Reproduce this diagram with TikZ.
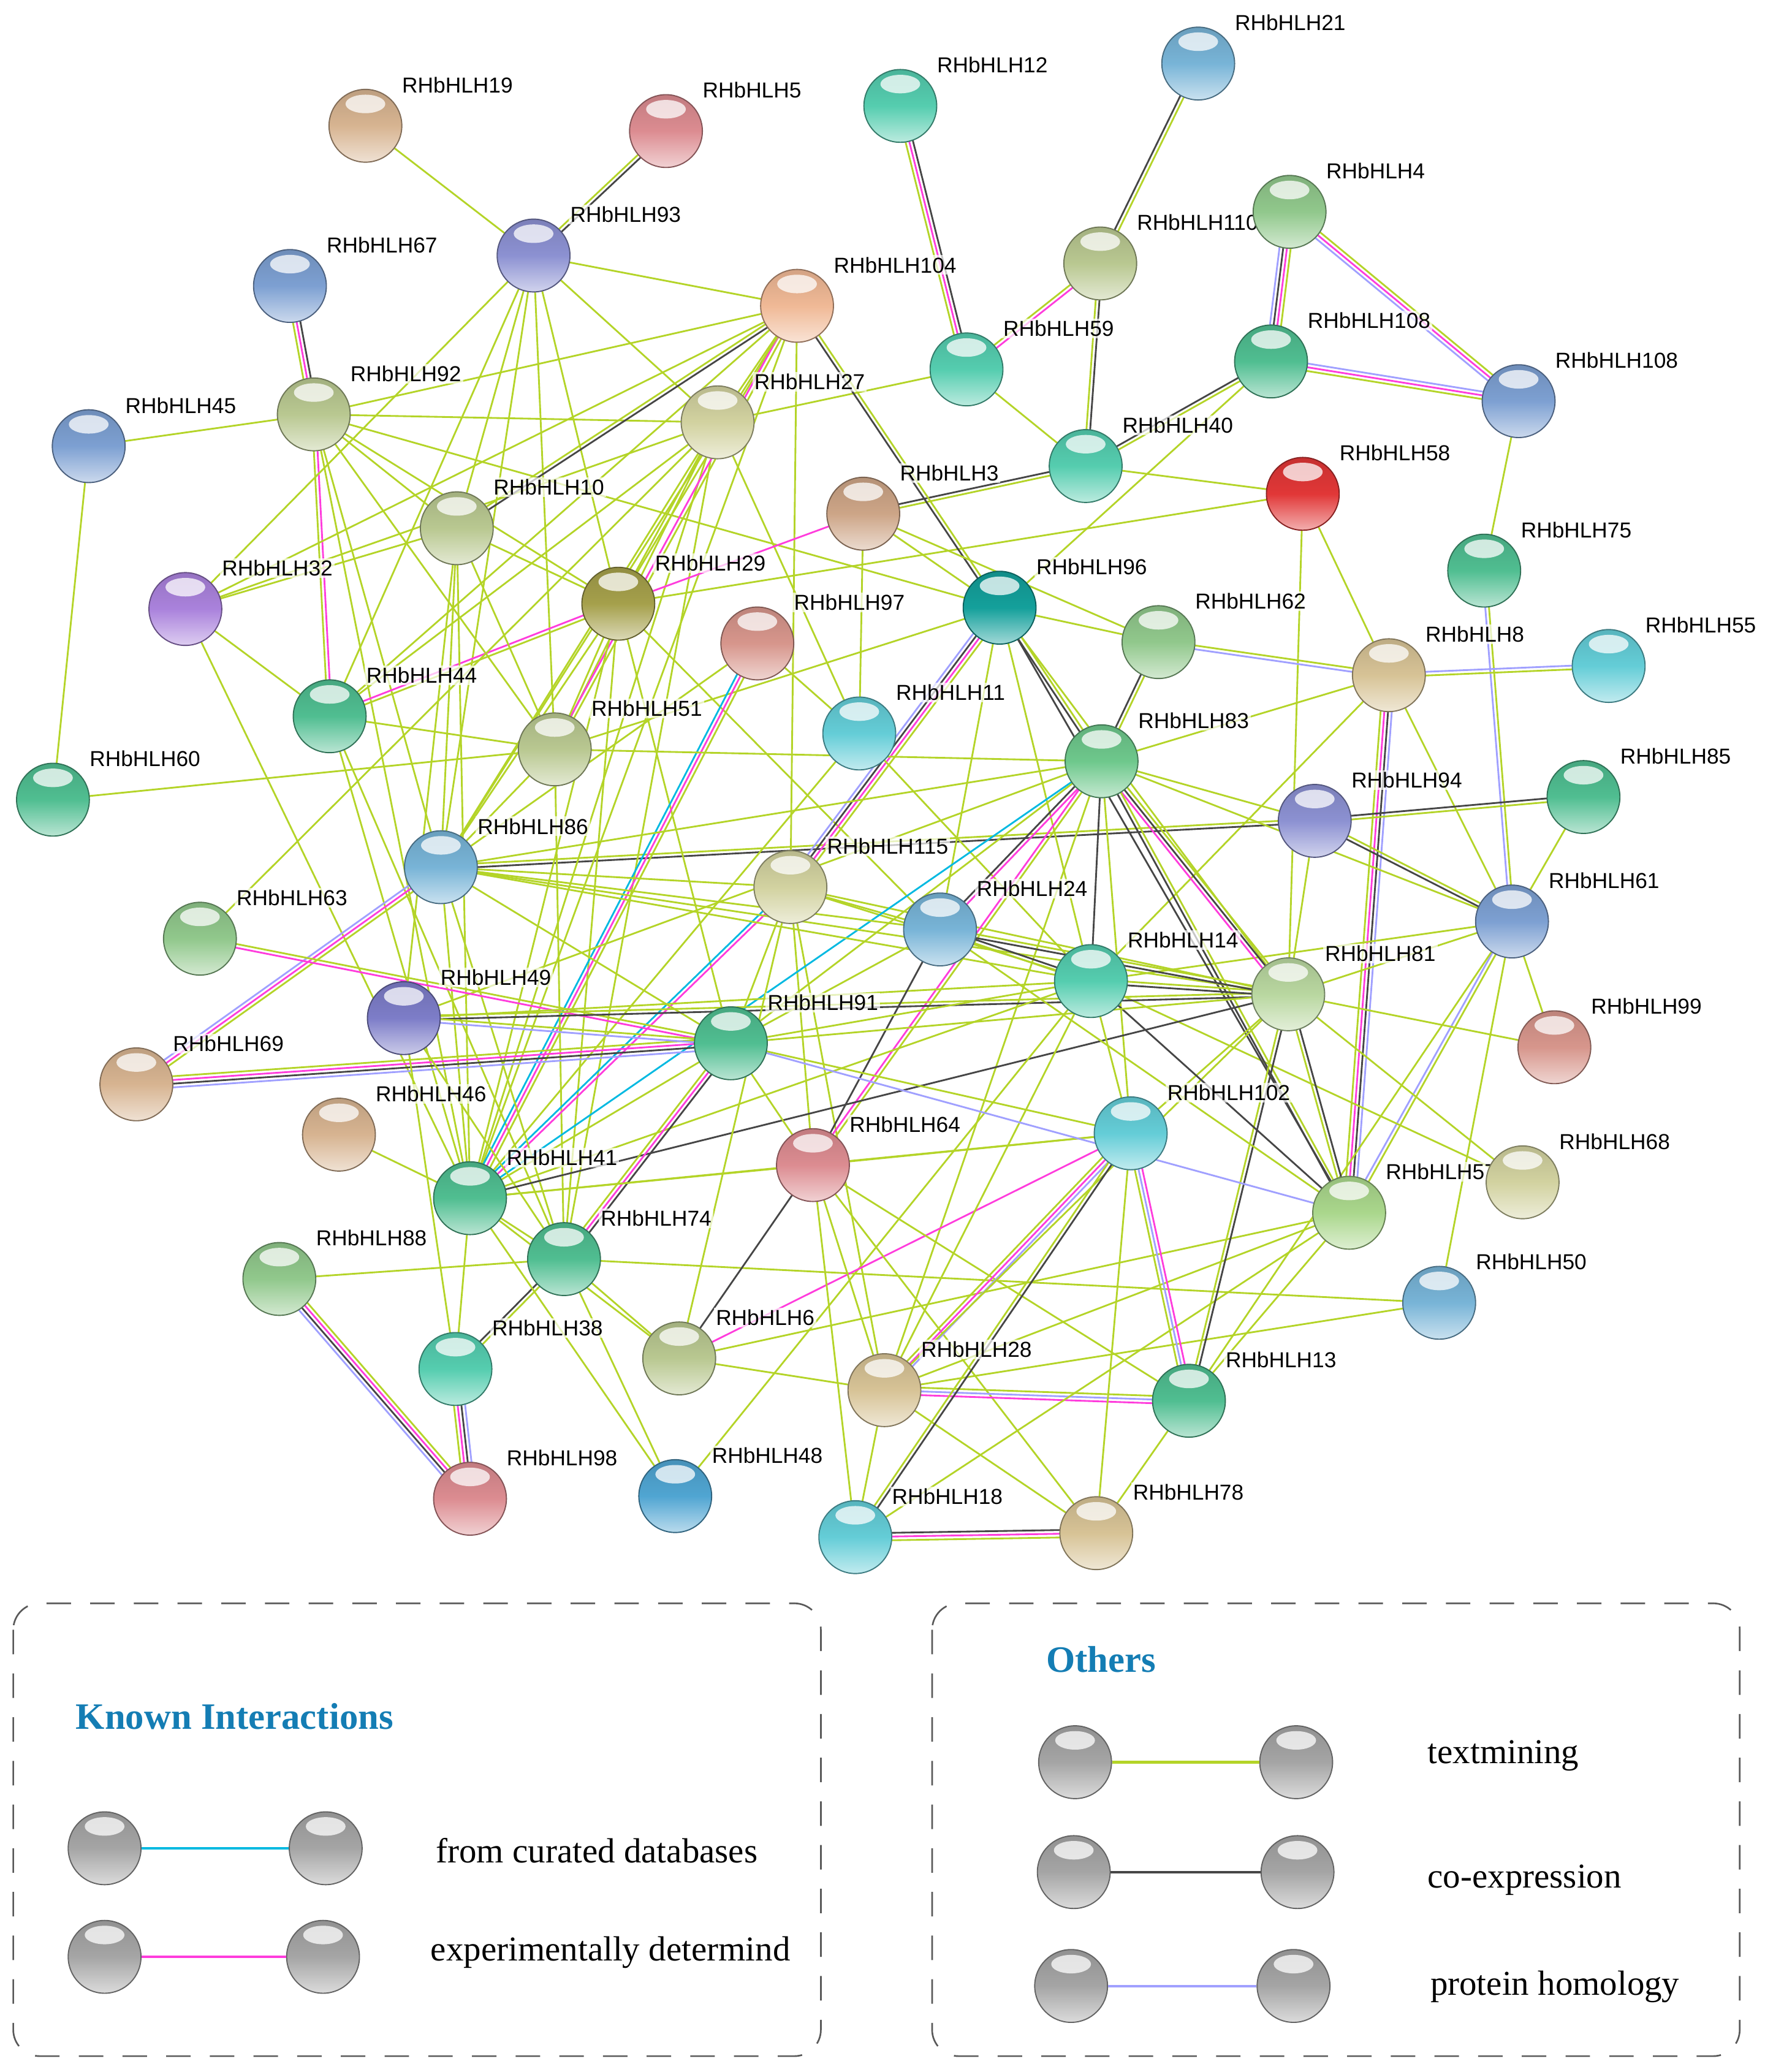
\documentclass[tikz,border=0pt]{standalone}
\usepackage{fontspec}
\usetikzlibrary{calc,backgrounds}
\newfontfamily\lblfont{Liberation Sans}
\newfontfamily\legfont{Liberation Serif}

% node colours
\definecolor{cTan}{RGB}{215,180,145}
\definecolor{cBrown}{RGB}{205,165,135}
\definecolor{cRose}{RGB}{220,140,145}
\definecolor{cSalmon}{RGB}{215,150,140}
\definecolor{cAqua}{RGB}{85,205,175}
\definecolor{cSky}{RGB}{120,180,215}
\definecolor{cBlue}{RGB}{80,165,210}
\definecolor{cLav}{RGB}{140,145,210}
\definecolor{cIndigo}{RGB}{125,125,200}
\definecolor{cSteel}{RGB}{125,160,210}
\definecolor{cPeach}{RGB}{240,185,150}
\definecolor{cSage}{RGB}{185,200,145}
\definecolor{cPale}{RGB}{185,215,160}
\definecolor{cLeaf}{RGB}{145,200,140}
\definecolor{cLime}{RGB}{170,215,140}
\definecolor{cMint}{RGB}{80,190,145}
\definecolor{cGreen}{RGB}{110,200,140}
\definecolor{cKhaki}{RGB}{210,210,160}
\definecolor{cRed}{RGB}{225,55,55}
\definecolor{cTeal}{RGB}{20,160,155}
\definecolor{cOlive}{RGB}{165,160,75}
\definecolor{cPurple}{RGB}{170,130,220}
\definecolor{cSand}{RGB}{215,195,150}
\definecolor{cCyan}{RGB}{100,205,215}
\definecolor{cGray}{RGB}{165,165,165}
% line colours
\definecolor{cTM}{RGB}{180,212,40}
\definecolor{cCO}{RGB}{70,70,70}
\definecolor{cHO}{RGB}{160,160,255}
\definecolor{cEX}{RGB}{255,60,220}
\definecolor{cDB}{RGB}{0,185,225}
\definecolor{cHead}{RGB}{20,125,180}

\tikzset{
  prot/.style={circle, minimum size=1.1cm, inner sep=0pt, draw=#1!60!black, line width=0.5pt,
    top color=#1!88!black, bottom color=#1!40!white, middle color=#1,
    path picture={\fill[white,opacity=0.75] ([yshift=-0.22cm]path picture bounding box.north) ellipse (0.3cm and 0.14cm);}},
  lbl/.style={font=\lblfont\fontsize{9.3}{11}\selectfont, fill=white, fill opacity=0.7, text opacity=1,
    inner sep=0.8pt, anchor=base west},
  textm/.style={draw=cTM, line width=0.75pt},
  coexp/.style={draw=cCO, line width=0.75pt},
  homol/.style={draw=cHO, line width=0.75pt},
  exper/.style={draw=cEX, line width=0.75pt},
  curat/.style={draw=cDB, line width=0.75pt},
  legbox/.style={draw=black!65, line width=0.7pt, dash pattern=on 0.37cm off 0.29cm, rounded corners=0.4cm},
  hdr/.style={font=\legfont\bfseries\fontsize{16}{19}\selectfont, text=cHead, inner sep=0pt, anchor=base west},
  legtxt/.style={font=\legfont\fontsize{15}{18}\selectfont, inner sep=0pt, anchor=base west}
}

% protein node with its label
\newcommand{\gene}[4]{%
  \node[prot=#4] (n#1) at (#2,#3) {};
  \node[lbl] (l#1) at ($(n#1)+(26,-25)$) {RHbHLH#1};}
% one interaction, one parallel line per evidence channel
\newcommand{\edg}[3]{%
  \foreach \s [count=\k] in {#3} {\xdef\nn{\k}}%
  \foreach \s [count=\k] in {#3} {%
    \pgfmathsetmacro\off{(\k-(\nn+1)/2)*1.6}%
    \draw[\s] ($(#1)!\off pt!90:(#2)$) -- ($(#2)!\off pt!-90:(#1)$);}}

\begin{document}
\begin{tikzpicture}[x=0.02cm, y=-0.02cm]
\useasboundingbox (0,0) rectangle (1333,1565);

% proteins
\gene{19}{276}{95}{cTan}
\gene{5}{503}{99}{cRose}
\gene{12}{680}{80}{cAqua}
\gene{21}{905}{48}{cSky}
\gene{93}{403}{193}{cLav}
\gene{67}{219}{216}{cSteel}
\gene{104}{602}{231}{cPeach}
\gene{110}{831}{199}{cSage}
\gene{4}{974}{160}{cLeaf}
\gene{59}{730}{279}{cAqua}
\node[prot=cMint] (n108a) at (960,273) {};
\node[lbl] (l108a) at ($(n108a)+(26,-25)$) {RHbHLH108};
\node[prot=cSteel] (n108b) at (1147,303) {};
\node[lbl] (l108b) at ($(n108b)+(26,-25)$) {RHbHLH108};
\gene{45}{67}{337}{cSteel}
\gene{92}{237}{313}{cSage}
\gene{27}{542}{319}{cKhaki}
\gene{40}{820}{352}{cAqua}
\gene{58}{984}{373}{cRed}
\gene{3}{652}{388}{cBrown}
\gene{10}{345}{399}{cSage}
\gene{75}{1121}{431}{cMint}
\gene{32}{140}{460}{cPurple}
\gene{29}{467}{456}{cOlive}
\gene{96}{755}{459}{cTeal}
\gene{97}{572}{486}{cSalmon}
\gene{62}{875}{485}{cLeaf}
\gene{8}{1049}{510}{cSand}
\gene{55}{1215}{503}{cCyan}
\gene{44}{249}{541}{cMint}
\gene{11}{649}{554}{cCyan}
\gene{51}{419}{566}{cSage}
\gene{83}{832}{575}{cGreen}
\gene{60}{40}{604}{cMint}
\gene{85}{1196}{602}{cMint}
\gene{94}{993}{620}{cLav}
\gene{86}{333}{655}{cSky}
\gene{115}{597}{670}{cKhaki}
\gene{61}{1142}{696}{cSteel}
\gene{24}{710}{702}{cSky}
\gene{63}{151}{709}{cLeaf}
\gene{14}{824}{741}{cAqua}
\gene{81}{973}{751}{cPale}
\gene{49}{305}{769}{cIndigo}
\gene{91}{552}{788}{cMint}
\gene{99}{1174}{791}{cSalmon}
\gene{69}{103}{819}{cTan}
\gene{46}{256}{857}{cTan}
\gene{102}{854}{856}{cCyan}
\gene{64}{614}{880}{cRose}
\gene{57}{1019}{916}{cLime}
\gene{68}{1150}{893}{cKhaki}
\gene{41}{355}{905}{cMint}
\gene{74}{426}{951}{cMint}
\gene{88}{211}{966}{cLeaf}
\gene{50}{1087}{984}{cSky}
\gene{38}{344}{1034}{cAqua}
\gene{6}{513}{1026}{cSage}
\gene{28}{668}{1050}{cSand}
\gene{13}{898}{1058}{cMint}
\gene{98}{355}{1132}{cRose}
\gene{48}{510}{1130}{cBlue}
\gene{18}{646}{1161}{cCyan}
\gene{78}{828}{1158}{cSand}

\begin{scope}[on background layer]
\fill[white] (0,0) rectangle (1333,1565);
% top right
\edg{n19}{n93}{textm}
\edg{n5}{n93}{textm,coexp}
\edg{n12}{n59}{textm,exper,coexp}
\edg{n21}{n110}{coexp,textm}
\edg{n110}{n59}{textm,exper}
\edg{n110}{n40}{textm,coexp}
\edg{n59}{n40}{textm}
\edg{n59}{n27}{textm}
\edg{n4}{n108a}{homol,coexp,exper,textm}
\edg{n4}{n108b}{homol,exper,textm}
\edg{n108a}{n108b}{textm,exper,homol}
\edg{n108a}{n40}{coexp,textm}
\edg{n108a}{n96}{textm}
\edg{n108b}{n75}{textm}
\edg{n40}{n3}{coexp,textm}
\edg{n40}{n58}{textm}
\edg{n58}{n29}{textm}
\edg{n58}{n8}{textm}
\edg{n58}{n81}{textm}
\edg{n75}{n61}{homol,textm}
\edg{n8}{n62}{textm,homol}
\edg{n8}{n55}{textm,homol}
\edg{n8}{n83}{textm}
\edg{n8}{n57}{textm,exper,coexp,homol}
\edg{n8}{n61}{textm}
\edg{n8}{n14}{textm}
\edg{n62}{n83}{coexp,textm}
\edg{n62}{n96}{textm}
\edg{n94}{n85}{textm,coexp}
\edg{n94}{n61}{coexp,textm}
\edg{n86}{n94}{coexp,textm}
\edg{n94}{n81}{textm}
\edg{n94}{n83}{textm}
\edg{n85}{n61}{textm}
\edg{n61}{n81}{textm}
\edg{n61}{n14}{textm}
\edg{n61}{n57}{homol,textm}
\edg{n61}{n99}{textm}
\edg{n61}{n50}{textm}
\edg{n61}{n13}{textm}
\edg{n81}{n99}{textm}
\edg{n81}{n68}{textm}
\edg{n14}{n68}{textm}
% top left
\edg{n67}{n92}{textm,exper,coexp}
\edg{n45}{n92}{textm}
\edg{n45}{n60}{textm}
\edg{n60}{n51}{textm}
\edg{n92}{n44}{textm,exper}
\edg{n92}{n27}{textm}
\edg{n92}{n104}{textm}
\edg{n92}{n10}{textm}
\edg{n92}{n29}{textm}
\edg{n92}{n86}{textm}
\edg{n92}{n51}{textm}
\edg{n92}{n41}{textm}
\edg{n92}{n96}{textm}
\edg{n93}{n104}{textm}
\edg{n93}{n27}{textm}
\edg{n93}{n32}{textm}
\edg{n93}{n10}{textm}
\edg{n93}{n44}{textm}
\edg{n93}{n86}{textm}
\edg{n93}{n29}{textm}
\edg{n93}{n51}{textm}
\edg{n32}{n27}{textm}
\edg{n32}{n10}{textm}
\edg{n32}{n44}{textm}
\edg{n32}{n41}{textm}
\edg{n44}{n29}{textm,exper}
\edg{n44}{n51}{textm}
\edg{n44}{n104}{textm}
\edg{n44}{n27}{textm}
\edg{n44}{n41}{textm}
\edg{n44}{n74}{textm}
\edg{n10}{n104}{coexp,textm}
\edg{n10}{n29}{textm}
\edg{n10}{n86}{textm}
\edg{n10}{n41}{textm}
\edg{n10}{n51}{textm}
\edg{n27}{n104}{textm}
\edg{n27}{n29}{textm}
\edg{n27}{n51}{textm}
\edg{n27}{n86}{textm}
\edg{n27}{n11}{textm}
\edg{n27}{n41}{textm}
\edg{n27}{n74}{textm}
\edg{n104}{n29}{textm}
\edg{n104}{n51}{exper,textm}
\edg{n104}{n96}{coexp,textm}
\edg{n104}{n115}{textm}
\edg{n104}{n86}{textm}
\edg{n104}{n32}{textm}
\edg{n104}{n41}{textm}
\edg{n29}{n3}{exper}
\edg{n29}{n51}{textm}
\edg{n29}{n86}{textm}
\edg{n29}{n41}{textm}
\edg{n29}{n24}{textm}
\edg{n29}{n91}{textm}
\edg{n29}{n74}{textm}
% centre
\edg{n3}{n96}{textm}
\edg{n3}{n11}{textm}
\edg{n3}{n62}{textm}
\edg{n96}{n115}{homol,coexp,exper,textm}
\edg{n96}{n83}{coexp,textm}
\edg{n96}{n57}{coexp}
\edg{n96}{n24}{textm}
\edg{n96}{n14}{textm}
\edg{n96}{n51}{textm}
\edg{n96}{n81}{textm}
\edg{n97}{n41}{curat,exper,textm}
\edg{n97}{n11}{textm}
\edg{n97}{n86}{textm}
\edg{n11}{n41}{textm}
\edg{n11}{n14}{textm}
\edg{n51}{n83}{textm}
\edg{n51}{n86}{textm}
\edg{n51}{n74}{textm}
\edg{n115}{n86}{textm}
\edg{n115}{n41}{curat,exper}
\edg{n115}{n91}{textm}
\edg{n115}{n24}{textm}
\edg{n115}{n14}{textm}
\edg{n115}{n81}{textm}
\edg{n115}{n64}{textm}
\edg{n115}{n28}{textm}
\edg{n83}{n41}{curat}
\edg{n83}{n64}{exper,textm}
\edg{n83}{n24}{coexp,exper}
\edg{n83}{n14}{coexp}
\edg{n83}{n81}{exper,coexp,textm}
\edg{n83}{n57}{coexp,textm}
\edg{n83}{n61}{textm}
\edg{n83}{n102}{textm}
\edg{n83}{n86}{textm}
\edg{n83}{n91}{textm}
\edg{n83}{n49}{textm}
\edg{n83}{n28}{textm}
\edg{n86}{n69}{homol,exper,textm}
\edg{n86}{n14}{textm}
\edg{n86}{n81}{textm}
\edg{n86}{n24}{textm}
\edg{n86}{n91}{textm}
\edg{n86}{n41}{textm}
\edg{n86}{n74}{textm}
\edg{n63}{n27}{textm}
\edg{n63}{n91}{exper,textm}
\edg{n69}{n91}{homol,coexp,exper,textm}
\edg{n49}{n81}{coexp,textm}
\edg{n49}{n91}{homol,textm}
\edg{n49}{n14}{textm}
\edg{n49}{n10}{textm}
\edg{n49}{n38}{textm}
\edg{n49}{n74}{textm}
% bottom
\edg{n46}{n41}{textm}
\edg{n41}{n81}{coexp}
\edg{n41}{n38}{textm}
\edg{n41}{n74}{textm}
\edg{n41}{n91}{textm}
\edg{n41}{n14}{textm}
\edg{n41}{n102}{textm}
\edg{n41}{n6}{textm}
\edg{n74}{n91}{coexp,exper,textm}
\edg{n74}{n38}{coexp,textm}
\edg{n74}{n88}{textm}
\edg{n74}{n6}{textm}
\edg{n74}{n48}{textm}
\edg{n74}{n50}{textm}
\edg{n88}{n98}{homol,coexp,exper,textm}
\edg{n38}{n98}{textm,exper,coexp,homol}
\edg{n48}{n14}{textm}
\edg{n48}{n41}{textm}
\edg{n6}{n64}{coexp}
\edg{n6}{n102}{exper}
\edg{n6}{n28}{textm}
\edg{n6}{n115}{textm}
\edg{n6}{n57}{textm}
\edg{n64}{n24}{coexp}
\edg{n64}{n91}{textm}
\edg{n64}{n102}{textm}
\edg{n64}{n28}{textm}
\edg{n64}{n18}{textm}
\edg{n64}{n78}{textm}
\edg{n64}{n13}{textm}
\edg{n64}{n41}{textm}
\edg{n28}{n102}{homol,exper,textm}
\edg{n28}{n13}{exper,homol,textm}
\edg{n28}{n18}{textm}
\edg{n28}{n78}{textm}
\edg{n28}{n57}{textm}
\edg{n28}{n81}{textm}
\edg{n28}{n14}{textm}
\edg{n28}{n50}{textm}
\edg{n18}{n78}{textm,exper,coexp}
\edg{n18}{n102}{coexp,textm}
\edg{n18}{n57}{textm}
\edg{n78}{n102}{textm}
\edg{n78}{n13}{textm}
\edg{n13}{n102}{exper,homol,textm}
\edg{n13}{n81}{coexp,textm}
\edg{n13}{n57}{textm}
\edg{n102}{n91}{textm}
\edg{n102}{n81}{textm}
\edg{n102}{n14}{textm}
\edg{n57}{n81}{coexp,textm}
\edg{n57}{n14}{coexp}
\edg{n57}{n91}{homol}
\edg{n57}{n24}{textm}
\edg{n14}{n24}{coexp,textm}
\edg{n14}{n81}{coexp,textm}
\edg{n24}{n81}{coexp,textm}
\edg{n24}{n91}{textm}
\edg{n91}{n81}{textm}
\edg{n91}{n14}{textm}
\end{scope}

% legend
\draw[legbox] (10,1211) rectangle (620,1553);
\draw[legbox] (704,1211) rectangle (1314,1553);
\node[hdr] (known) at (57,1306) {Known Interactions};
\node[hdr] (others) at (790,1263) {Others};
\node[prot=cGray] (k1a) at (79,1396) {};
\node[prot=cGray] (k1b) at (246,1396) {};
\node[prot=cGray] (k2a) at (79,1478) {};
\node[prot=cGray] (k2b) at (244,1478) {};
\node[prot=cGray] (o1a) at (812,1331) {};
\node[prot=cGray] (o1b) at (979,1331) {};
\node[prot=cGray] (o2a) at (811,1414) {};
\node[prot=cGray] (o2b) at (980,1414) {};
\node[prot=cGray] (o3a) at (809,1500) {};
\node[prot=cGray] (o3b) at (977,1500) {};
\draw[curat, line width=1.1pt] (k1a) -- (k1b);
\draw[exper, line width=1.1pt] (k2a) -- (k2b);
\draw[textm, line width=1.1pt] (o1a) -- (o1b);
\draw[coexp, line width=1.1pt] (o2a) -- (o2b);
\draw[homol, line width=1.1pt] (o3a) -- (o3b);
\node[legtxt] (tk1) at (329,1407) {from curated databases};
\node[legtxt] (tk2) at (325,1481) {experimentally determind};
\node[legtxt] (to1) at (1078,1332) {textmining};
\node[legtxt] (to2) at (1078,1426) {co-expression};
\node[legtxt] (to3) at (1080,1507) {protein homology};
\end{tikzpicture}
\end{document}
